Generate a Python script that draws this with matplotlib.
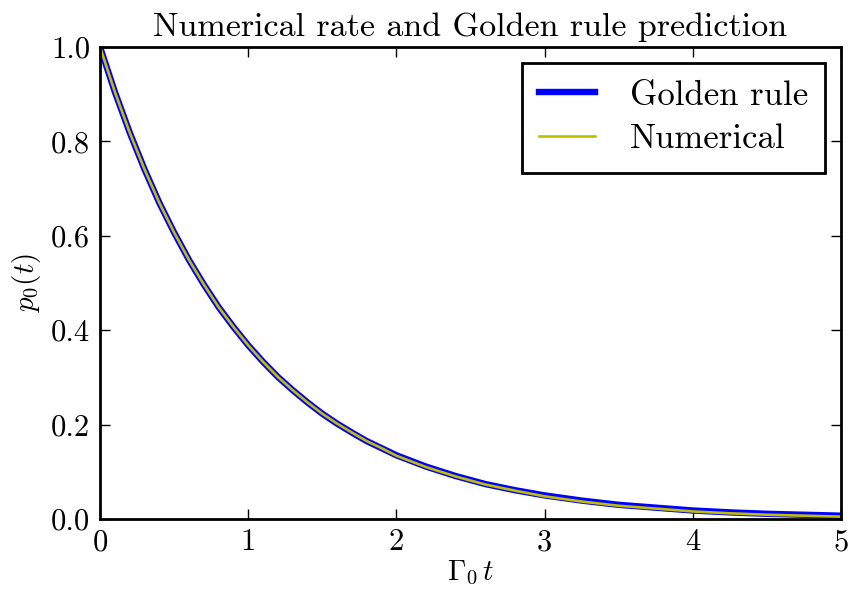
import matplotlib
matplotlib.use("Agg")
import matplotlib.pyplot as plt

# Population of the initial state versus scaled time
t_values = [0.0, 0.1, 0.2, 0.3, 0.4, 0.5, 0.6, 0.7, 0.8, 0.9, 1.0,
            1.1, 1.2, 1.3, 1.4, 1.5, 1.6, 1.7, 1.8, 1.9, 2.0,
            2.2, 2.4, 2.6, 2.8, 3.0, 3.25, 3.5, 3.75, 4.0, 4.25, 4.5, 4.75, 5.0]
golden_rule = [1.000, 0.905, 0.819, 0.741, 0.670, 0.607, 0.549, 0.497, 0.449, 0.407, 0.368,
               0.333, 0.301, 0.273, 0.247, 0.223, 0.202, 0.183, 0.165, 0.150, 0.135,
               0.111, 0.091, 0.074, 0.061, 0.050, 0.039, 0.030, 0.024, 0.018, 0.014, 0.011, 0.009, 0.007]
numerical = [1.000, 0.905, 0.819, 0.741, 0.670, 0.607, 0.549, 0.497, 0.449, 0.407, 0.368,
             0.333, 0.301, 0.273, 0.247, 0.223, 0.202, 0.183, 0.165, 0.150, 0.134,
             0.110, 0.090, 0.073, 0.060, 0.048, 0.037, 0.028, 0.022, 0.016, 0.012, 0.009, 0.007, 0.005]

x_ticks = [0, 1, 2, 3, 4, 5]
y_ticks = [0.0, 0.2, 0.4, 0.6, 0.8, 1.0]

plt.rcParams.update({
    "font.family": "serif",
    "font.serif": ["cmr10"],
    "mathtext.fontset": "cm",
    "axes.formatter.use_mathtext": True,
    "axes.linewidth": 2.0,
    "xtick.direction": "in",
    "ytick.direction": "in",
    "xtick.top": True,
    "ytick.right": True,
    "xtick.major.size": 7,
    "ytick.major.size": 7,
    "xtick.major.width": 1.0,
    "ytick.major.width": 1.0,
    "xtick.major.pad": 7,
    "ytick.major.pad": 7,
})

fig = plt.figure(figsize=(8.52, 5.93), dpi=100, facecolor="white")
ax = fig.add_axes([0.1174, 0.1248, 0.8697, 0.7959])

ax.plot(t_values, golden_rule, color="#0000ff", lw=4.6, label="Golden rule")
ax.plot(t_values, numerical, color="#bfbf00", lw=1.9, label="Numerical")

ax.set_xlim(0, 5)
ax.set_ylim(0, 1)
ax.set_xticks(x_ticks)
ax.set_yticks(y_ticks)
ax.set_xticklabels([str(v) for v in x_ticks])
ax.set_yticklabels([f"{v:.1f}" for v in y_ticks])
ax.tick_params(labelsize=22)

ax.set_title("Numerical rate and Golden rule prediction", fontsize=24.5, pad=8)
ax.set_xlabel(r"$\Gamma_0\, t$", fontsize=21, labelpad=2)
ax.set_ylabel(r"$p_0(t)$", fontsize=21, labelpad=6)

leg = ax.legend(loc="upper right", fontsize=25, fancybox=False, framealpha=1,
                edgecolor="black", handlelength=1.6, handletextpad=1.0,
                borderpad=0.5, labelspacing=0.35, borderaxespad=0.45)
leg.get_frame().set_linewidth(2.0)

fig.savefig("out.png", dpi=100, facecolor="white")
